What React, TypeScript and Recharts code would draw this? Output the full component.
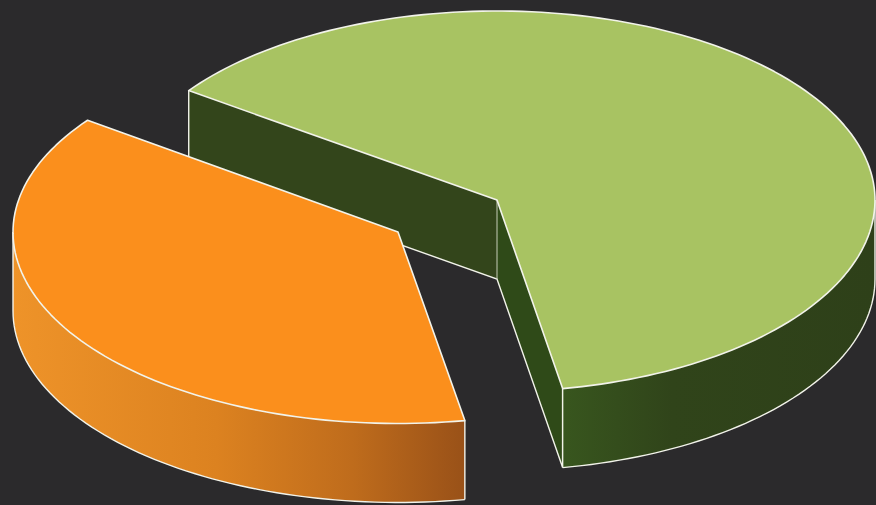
import React from 'react';
import { PieChart, Pie } from 'recharts';

const sliceNames = ['A', 'B'];
const sliceValues = [62.4, 37.6];
const topColors = ['#a8c362', '#fb8f1c'];

// Slice projection onto the tilted plane (drawing style, not data)
const projections = [
  { dx: 0, dy: 0, rx: 1, ryBack: 0.5, ryFront: 0.5066, nudgeStart: 0, wallFrom: -90, wallTo: 0 },
  { dx: -99, dy: 32, rx: 1.0185, ryBack: 0.5, ryFront: 0.5066, nudgeStart: -0.9, wallFrom: 180, wallTo: 280 },
];
const DEPTH = 79;
const LINE = '#f2f3ea';

const tableData = sliceNames.map((name, i) => ({ name, value: sliceValues[i], fill: topColors[i], idx: i }));

function Slice3D(props: any) {
  const { cx, cy, outerRadius, startAngle, endAngle, payload } = props;
  const idx: number = payload?.idx ?? props.idx ?? 0;
  const p = projections[idx];
  const ox = cx + p.dx;
  const oy = cy + p.dy;
  const rx = outerRadius * p.rx;
  const pt = (deg: number, down = 0): [number, number] => {
    let d = deg;
    if (idx === 1 && deg < 170) d = deg + p.nudgeStart;
    const t = (d * Math.PI) / 180;
    const sin = Math.sin(t);
    const ry = outerRadius * (sin < 0 ? p.ryFront : p.ryBack);
    return [ox + rx * Math.cos(t), oy - ry * sin + down];
  };
  const arc = (from: number, to: number, down = 0): string[] => {
    const out: string[] = [];
    const n = Math.max(2, Math.ceil(Math.abs(to - from) / 1.5));
    for (let i = 0; i <= n; i++) {
      const q = pt(from + ((to - from) * i) / n, down);
      out.push(`${q[0].toFixed(2)} ${q[1].toFixed(2)}`);
    }
    return out;
  };
  const wallA = Math.max(startAngle, p.wallFrom);
  const wallB = Math.min(endAngle, p.wallTo);
  const wallPath = 'M' + arc(wallA, wallB).join('L') + 'L' + arc(wallB, wallA, DEPTH).join('L') + 'Z';
  const wallBottom = 'M' + arc(wallA, wallB, DEPTH).join('L');
  const top = `M${ox} ${oy}L` + arc(startAngle, endAngle).join('L') + 'Z';
  const s = pt(startAngle);
  const e = pt(endAngle);
  const wallStartTop = pt(wallA);
  const wallEndTop = pt(wallB);

  return (
    <g>
      {idx === 0 && (
        <>
          <path d={`M${ox} ${oy}L${e[0]} ${e[1]}L${e[0]} ${e[1] + DEPTH}L${ox} ${oy + DEPTH}Z`} fill="#33451b" />
          <path d={`M${ox} ${oy}L${s[0]} ${s[1]}L${s[0]} ${s[1] + DEPTH}L${ox} ${oy + DEPTH}Z`} fill="#2f4a18" />
          <path
            d={`M${e[0]} ${e[1]}V${e[1] + DEPTH}L${ox} ${oy + DEPTH}L${s[0]} ${s[1] + DEPTH}V${s[1]}`}
            fill="none"
            stroke={LINE}
            strokeWidth={1.4}
          />
          <path d={`M${ox} ${oy}V${oy + DEPTH}`} stroke="#c7cdb8" strokeWidth={1} />
        </>
      )}
      <path d={wallPath} fill={idx === 0 ? 'url(#greenWall)' : 'url(#orangeWall)'} />
      <path d={wallBottom} fill="none" stroke={LINE} strokeWidth={1.4} />
      <path
        d={`M${wallStartTop[0]} ${wallStartTop[1]}v${DEPTH}M${wallEndTop[0]} ${wallEndTop[1]}v${DEPTH}`}
        stroke={LINE}
        strokeWidth={1.4}
      />
      <path d={top} fill={topColors[idx]} stroke={LINE} strokeWidth={1.6} strokeLinejoin="round" />
    </g>
  );
}

export default function App() {
  return (
    <div style={{ position: 'absolute', left: 0, top: 0, width: 876, height: 505, background: '#2b2a2c', overflow: 'hidden' }}>
      <PieChart width={876} height={505} margin={{ top: 0, right: 0, bottom: 0, left: 0 }}>
        <defs>
          <linearGradient id="orangeWall" x1="0" y1="0" x2="1" y2="0">
            <stop offset="0" stopColor="#ee9329" />
            <stop offset="0.45" stopColor="#dc8220" />
            <stop offset="0.75" stopColor="#bf6c1c" />
            <stop offset="1" stopColor="#995118" />
          </linearGradient>
          <linearGradient id="greenWall" x1="0" y1="0" x2="1" y2="0">
            <stop offset="0" stopColor="#38561e" />
            <stop offset="0.35" stopColor="#30441a" />
            <stop offset="1" stopColor="#2e4019" />
          </linearGradient>
        </defs>
        <Pie
          data={tableData}
          dataKey="value"
          nameKey="name"
          cx={497}
          cy={200}
          innerRadius={0}
          outerRadius={378}
          startAngle={-80}
          endAngle={280}
          stroke="none"
          isAnimationActive={false}
          shape={Slice3D}
        />
      </PieChart>
    </div>
  );
}
